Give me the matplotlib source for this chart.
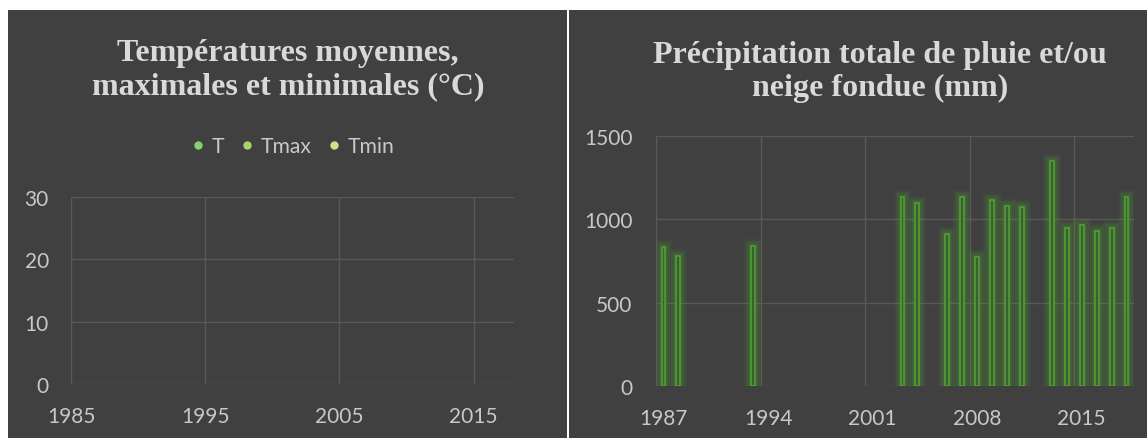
import matplotlib
matplotlib.use("Agg")
import matplotlib.pyplot as plt
from matplotlib.patches import Rectangle

# ---- data ----
temp_series = ["T", "Tmax", "Tmin"]
temp_colors = ["#84d36f", "#a9d46a", "#d3e184"]
temp_xticks = [1985, 1995, 2005, 2015]
temp_yticks = [0, 10, 20, 30]

precip_years = [1987, 1988, 1993, 2003, 2004, 2006, 2007, 2008, 2009, 2010,
                2011, 2013, 2014, 2015, 2016, 2017, 2018]
precip_mm = [836, 780, 840, 1133, 1100, 912, 1136, 777, 1116, 1080,
             1074, 1351, 946, 964, 932, 948, 1136]
precip_xticks = [1987, 1994, 2001, 2008, 2015]
precip_yticks = [0, 500, 1000, 1500]

W, H = 1147, 439
BG = "#404040"
GRID = "#595959"
TXT = "#c8c8c8"
TITLE = "#d9d9d9"
FONT = "Lato"
TICK_SIZE = 15

fig = plt.figure(figsize=(W / 100, H / 100), dpi=100)
fig.patch.set_facecolor("white")

def px(x0, y0, x1, y1):
    return [x0 / W, 1 - y1 / H, (x1 - x0) / W, (y1 - y0) / H]

# panel backgrounds
fig.add_artist(Rectangle((8 / W, 0), (567 - 8) / W, 1 - 11 / H,
                         transform=fig.transFigure, facecolor=BG, edgecolor="none", zorder=0))
fig.add_artist(Rectangle((569 / W, 0), (W - 569) / W, 1 - 11 / H,
                         transform=fig.transFigure, facecolor=BG, edgecolor="none", zorder=0))

def style(ax):
    ax.set_facecolor("none")
    for s in ax.spines.values():
        s.set_visible(False)
    ax.tick_params(length=0, colors=TXT, labelsize=TICK_SIZE)
    for lab in ax.get_xticklabels() + ax.get_yticklabels():
        lab.set_fontfamily(FONT)

# ---- left panel ----
axL = fig.add_axes(px(71, 198, 514, 385))
axL.set_xlim(1985, 2018)
axL.set_ylim(0, 30)
axL.set_xticks(temp_xticks)
axL.set_yticks(temp_yticks)
axL.grid(True, color=GRID, linewidth=1.0)
axL.set_axisbelow(True)
axL.tick_params(axis="x", pad=15.5)
axL.tick_params(axis="y", pad=16)
style(axL)
for name, c in zip(temp_series, temp_colors):
    axL.plot([], [], "o", color=c, markersize=5, label=name)
leg = axL.legend(loc="center", bbox_to_anchor=(293 / W, 1 - 147 / H),
                 bbox_transform=fig.transFigure, ncol=3, frameon=False,
                 handletextpad=0.33, columnspacing=0.78, handlelength=0.6,
                 prop={"family": FONT, "size": 15.2})
for t in leg.get_texts():
    t.set_color(TXT)
fig.text(288 / W, 1 - 70 / H, "Températures moyennes,\nmaximales et minimales (°C)",
         ha="center", va="center", fontsize=23, fontweight="bold",
         family="Liberation Serif", color=TITLE, linespacing=1.22)

# ---- right panel ----
axR = fig.add_axes(px(656, 137, 1134, 387))
axR.set_xlim(1986.5, 2018.5)
axR.set_ylim(0, 1500)
axR.set_yticks(precip_yticks)
axR.set_xticks(precip_xticks)
axR.set_xticks([1986.5, 1993.5, 2000.5, 2007.5, 2014.5], minor=True)
axR.grid(False)
axR.grid(True, axis="y", color=GRID, linewidth=1.0)
axR.grid(True, axis="x", which="minor", color=GRID, linewidth=1.0)
axR.tick_params(which="minor", length=0)
axR.tick_params(axis="x", pad=15.5)
axR.tick_params(axis="y", pad=17)
axR.set_axisbelow(True)
style(axR)
# glow
for lw, a in [(10, 0.08), (7, 0.12), (4, 0.18)]:
    axR.bar(precip_years, precip_mm, width=0.26, facecolor="none",
            edgecolor="#4ea72e", linewidth=lw, alpha=a, zorder=2)
axR.bar(precip_years, precip_mm, width=0.26, facecolor="#3f5c36",
        edgecolor="#4ea72e", linewidth=1.1, zorder=3)
fig.text(880 / W, 1 - 72 / H, "Précipitation totale de pluie et/ou\nneige fondue (mm)",
         ha="center", va="center", fontsize=23, fontweight="bold",
         family="Liberation Serif", color=TITLE, linespacing=1.22)

fig.savefig("out.png", dpi=100, facecolor=fig.get_facecolor())
